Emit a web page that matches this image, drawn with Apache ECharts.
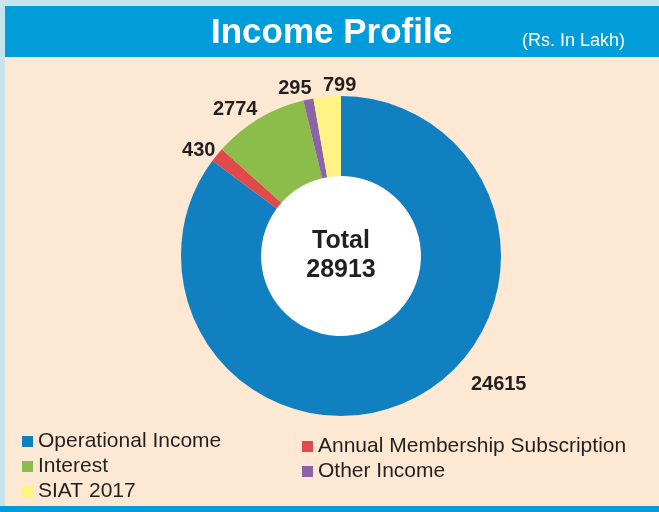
<!DOCTYPE html>
<html lang="en">

<head>
    <meta charset="UTF-8">
    <title>Income Profile</title>
    <script src="https://cdn.jsdelivr.net/npm/echarts@6/dist/echarts.min.js"></script>
    <style>
        html, body { margin: 0; padding: 0; }
        #chart1 { width: 659px; height: 512px; }
    </style>
</head>

<body>
    <div id="chart1"></div>
    <script>
        // data (Rs. In Lakh), clockwise from 12 o'clock
        var categories = ['Operational Income', 'Annual Membership Subscription', 'Interest', 'Other Income', 'SIAT 2017'];
        var values = [24615, 430, 2774, 295, 799];
        var legendLeft = ['Operational Income', 'Interest', 'SIAT 2017'];
        var legendRight = ['Annual Membership Subscription', 'Other Income'];

        var colors = ['#1080c1', '#e04a4a', '#8cbd4a', '#8b63a7', '#fff385'];
        var font = 'Liberation Sans, Arial, sans-serif';
        // small hand nudges for the outside labels, as in the original artwork
        var labelNudge = [[73, -30], [0, 6], [-10, 5], [-5, 6], [19, 6]];

        var total = values.reduce(function (a, b) { return a + b; }, 0);

        var pieData = categories.map(function (name, i) {
            return { name: name, value: values[i], itemStyle: { color: colors[i] } };
        });

        var legendStyle = {
            orient: 'vertical',
            icon: 'rect',
            itemWidth: 11,
            itemHeight: 11,
            itemGap: 4,
            padding: 0,
            selectedMode: false,
            textStyle: { fontFamily: font, fontSize: 21, lineHeight: 21, color: '#231f20' }
        };

        var option = {
            backgroundColor: '#c5e4ec',
            animation: false,
            graphic: [
                { type: 'rect', shape: { x: 5, y: 6, width: 654, height: 51 }, style: { fill: '#019ddb' }, z: 0 },
                { type: 'rect', shape: { x: 5, y: 57, width: 654, height: 449 }, style: { fill: '#fde9d3' }, z: 0 },
                { type: 'rect', shape: { x: 0, y: 506, width: 659, height: 6 }, style: { fill: '#019ddb' }, z: 0 }
            ],
            title: [
                {
                    text: 'Income Profile',
                    left: 211,
                    top: 16,
                    padding: 0,
                    textStyle: { fontFamily: font, fontSize: 35, fontWeight: 'bold', color: '#ffffff' }
                },
                {
                    text: '(Rs. In Lakh)',
                    left: 522,
                    top: 32,
                    padding: 0,
                    textStyle: { fontFamily: font, fontSize: 18, fontWeight: 'normal', color: '#ffffff' }
                }
            ],
            legend: [
                Object.assign({ left: 22, top: 431, data: legendLeft }, legendStyle),
                Object.assign({ left: 302, top: 436, data: legendRight }, legendStyle)
            ],
            series: [
                {
                    type: 'pie',
                    silent: true,
                    center: [341, 256],
                    radius: [0, 80],
                    z: 1,
                    itemStyle: { color: '#ffffff' },
                    label: {
                        position: 'center',
                        formatter: 'Total\n' + total,
                        fontFamily: font,
                        fontSize: 25,
                        fontWeight: 'bold',
                        lineHeight: 29,
                        color: '#231f20'
                    },
                    data: [{ name: 'total', value: total }]
                },
                {
                    type: 'pie',
                    center: [341, 256],
                    radius: [80, 160],
                    startAngle: 90,
                    clockwise: true,
                    avoidLabelOverlap: false,
                    label: {
                        position: 'outside',
                        formatter: '{c}',
                        fontFamily: font,
                        fontSize: 20,
                        fontWeight: 'bold',
                        color: '#231f20'
                    },
                    labelLine: { show: false, length: 17, length2: 0 },
                    labelLayout: function (p) {
                        var n = labelNudge[p.dataIndex];
                        return { align: 'center', dx: n[0], dy: n[1] };
                    },
                    data: pieData
                }
            ]
        };

        var chart1 = echarts.init(document.getElementById('chart1'));
        chart1.setOption(option);
    </script>
</body>

</html>
